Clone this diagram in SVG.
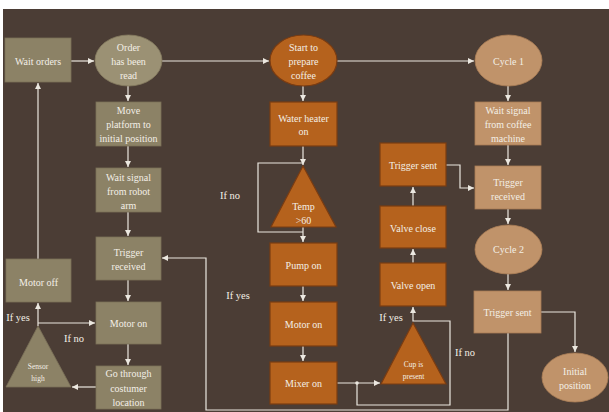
<svg xmlns="http://www.w3.org/2000/svg" width="609" height="412" viewBox="0 0 609 412">
<defs>
<marker id="ah" markerUnits="userSpaceOnUse" markerWidth="7" markerHeight="6" refX="6" refY="3" orient="auto">
<path d="M0,0 L6,3 L0,6 z" fill="#ece8e0"/>
</marker>
<style>
.k{fill:#8c8266;stroke:#7a7058;stroke-width:0.8}
.ke{fill:#9b9174;stroke:#857b60;stroke-width:0.8}
.o{fill:#b5621d;stroke:#7a3c12;stroke-width:1.2}
.t{fill:#c0936a;stroke:#a87c55;stroke-width:0.8}
text{font-family:"Liberation Serif","Times New Roman",serif;font-size:10px;fill:#f3efe6;text-anchor:middle}
.s{font-size:7.5px}
.l{font-size:10.5px}
.c{fill:none;stroke:#ece8e0;stroke-width:1.2}
</style>
</defs>
<rect x="0" y="0" width="609" height="412" fill="#ffffff"/>
<rect x="3" y="9" width="606" height="403" fill="#4b3d35"/>

<g id="connectors" class="c">
<path d="M71,61 H94" marker-end="url(#ah)"/>
<path d="M162,61 H269" marker-end="url(#ah)"/>
<path d="M337,61 H474" marker-end="url(#ah)"/>
<path d="M128,86 V101" marker-end="url(#ah)"/>
<path d="M128,146 V167" marker-end="url(#ah)"/>
<path d="M128,212 V236" marker-end="url(#ah)"/>
<path d="M128,280 V301" marker-end="url(#ah)"/>
<path d="M128,344 V365" marker-end="url(#ah)"/>
<path d="M96,387 H72" marker-end="url(#ah)"/>
<path d="M38,326 V303" marker-end="url(#ah)"/>
<path d="M38,323 H95" marker-end="url(#ah)"/>
<path d="M38,259 V83" marker-end="url(#ah)"/>
<path d="M508,333 V410 H206 V258 H162" marker-end="url(#ah)"/>
<path d="M303,86 V101" marker-end="url(#ah)"/>
<path d="M303,146 V165" marker-end="url(#ah)"/>
<path d="M303,232 H258 V163 H303"/>
<path d="M303,227 V242" marker-end="url(#ah)"/>
<path d="M303,286 V301" marker-end="url(#ah)"/>
<path d="M303,346 V361" marker-end="url(#ah)"/>
<path d="M337,383 H380" marker-end="url(#ah)"/>
<path d="M357,383 V405 H450 V321 H413 V307" marker-end="url(#ah)"/>
<path d="M413,263 V249" marker-end="url(#ah)"/>
<path d="M413,206 V187" marker-end="url(#ah)"/>
<path d="M446,165 H460 V188 H474" marker-end="url(#ah)"/>
<path d="M508,86 V101" marker-end="url(#ah)"/>
<path d="M508,145 V165" marker-end="url(#ah)"/>
<path d="M508,209 V224" marker-end="url(#ah)"/>
<path d="M508,274 V290" marker-end="url(#ah)"/>
<path d="M541,312 H575 V352" marker-end="url(#ah)"/>
<circle cx="357" cy="383" r="1.8" fill="#ece8e0" stroke="none"/>
</g>

<g id="wait_orders"><rect class="k" x="5" y="38" width="66" height="44"/><text x="38" y="64.5">Wait orders</text></g>
<g id="order_read"><ellipse class="ke" cx="128.5" cy="60.5" rx="33.5" ry="25.5"/><text x="128.5" y="50.5">Order</text><text x="128.5" y="64.5">has been</text><text x="128.5" y="78.5">read</text></g>
<g id="move_platform"><rect class="k" x="96" y="102" width="65" height="44"/><text x="128.5" y="113.5">Move</text><text x="128.5" y="127.5">platform to</text><text x="128.5" y="141.5">initial position</text></g>
<g id="wait_robot"><rect class="k" x="96" y="168" width="65" height="44"/><text x="128.5" y="180.5">Wait signal</text><text x="128.5" y="194.5">from robot</text><text x="128.5" y="208.5">arm</text></g>
<g id="trigger_received_left"><rect class="k" x="96" y="237" width="65" height="43"/><text x="128.5" y="255.5">Trigger</text><text x="128.5" y="269.5">received</text></g>
<g id="motor_on_left"><rect class="k" x="96" y="302" width="65" height="42"/><text x="128.5" y="326.5">Motor on</text></g>
<g id="go_through"><rect class="k" x="96" y="366" width="65" height="43"/><text x="128.5" y="376.5">Go through</text><text x="128.5" y="391.5">costumer</text><text x="128.5" y="405.5">location</text></g>
<g id="sensor_high"><polygon class="k" points="38,326 71,387 6,387"/><text class="s" x="38" y="368.5">Sensor</text><text class="s" x="38" y="380.5">high</text></g>
<g id="motor_off"><rect class="k" x="6" y="259" width="65" height="43"/><text x="38.5" y="285.5">Motor off</text></g>

<g id="start_prepare"><ellipse class="o" cx="303.5" cy="60.5" rx="33.5" ry="25.5"/><text x="303.5" y="50.5">Start to</text><text x="303.5" y="64.5">prepare</text><text x="303.5" y="78.5">coffee</text></g>
<g id="water_heater"><rect class="o" x="270" y="102" width="67" height="44"/><text x="303.5" y="121.5">Water heater</text><text x="303.5" y="134.5">on</text></g>
<g id="temp"><polygon class="o" points="303,166 336,227 271,227"/><text x="303.5" y="209.5">Temp</text><text x="303.5" y="223.5">&gt;60</text></g>
<g id="pump_on"><rect class="o" x="270" y="243" width="67" height="43"/><text x="303.5" y="268.5">Pump on</text></g>
<g id="motor_on_mid"><rect class="o" x="270" y="302" width="67" height="44"/><text x="303.5" y="327.5">Motor on</text></g>
<g id="mixer_on"><rect class="o" x="270" y="362" width="67" height="42"/><text x="303.5" y="386.5">Mixer on</text></g>
<g id="cup_present"><polygon class="o" points="413,323 446,384 381,384"/><text class="s" x="413.5" y="366.5">Cup is</text><text class="s" x="413.5" y="378.5">present</text></g>
<g id="valve_open"><rect class="o" x="380" y="263" width="66" height="43"/><text x="413" y="288.5">Valve open</text></g>
<g id="valve_close"><rect class="o" x="380" y="206" width="66" height="42"/><text x="413" y="231.5">Valve close</text></g>
<g id="trigger_sent_mid"><rect class="o" x="380" y="143" width="66" height="43"/><text x="413" y="168.5">Trigger sent</text></g>

<g id="cycle1"><ellipse class="t" cx="508.5" cy="60.5" rx="33.5" ry="25.5"/><text x="508.5" y="64.5">Cycle 1</text></g>
<g id="wait_coffee"><rect class="t" x="475" y="102" width="66" height="43"/><text x="508" y="113.5">Wait signal</text><text x="508" y="127.5">from coffee</text><text x="508" y="142">machine</text></g>
<g id="trigger_received_right"><rect class="t" x="475" y="166" width="66" height="43"/><text x="508" y="185.5">Trigger</text><text x="508" y="199.5">received</text></g>
<g id="cycle2"><ellipse class="t" cx="508.5" cy="249.5" rx="33.5" ry="24.5"/><text x="508.5" y="253">Cycle 2</text></g>
<g id="trigger_sent_right"><rect class="t" x="474" y="291" width="67" height="42"/><text x="507.5" y="316">Trigger sent</text></g>
<g id="initial_position"><ellipse class="t" cx="575" cy="377.5" rx="33" ry="24.5"/><text x="575" y="374.5">Initial</text><text x="575" y="388.5">position</text></g>

<g id="labels">
<text class="l" x="18" y="320.5">If yes</text>
<text class="l" x="74" y="341.5">If no</text>
<text class="l" x="230" y="198.5">If no</text>
<text class="l" x="238" y="298.5">If yes</text>
<text class="l" x="391" y="320.5">If yes</text>
<text class="l" x="465" y="355.5">If no</text>
</g>
</svg>
